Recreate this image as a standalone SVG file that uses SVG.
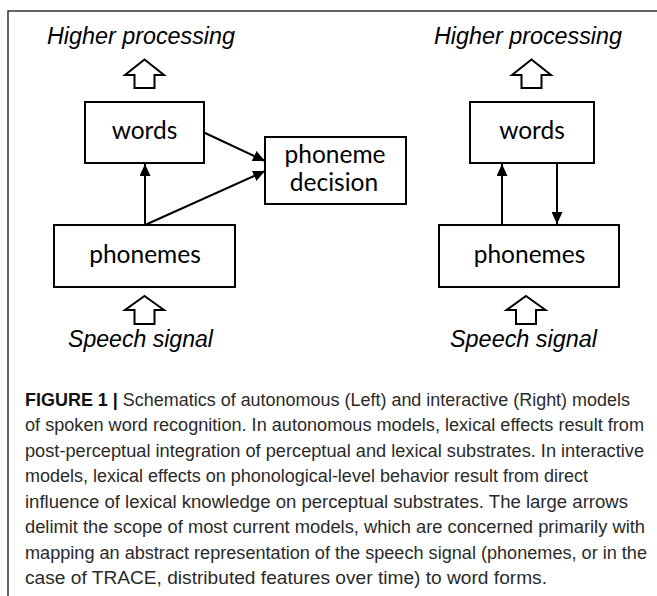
<svg xmlns="http://www.w3.org/2000/svg" width="657" height="596" viewBox="0 0 657 596">
  <defs>
    <marker id="tri" markerUnits="userSpaceOnUse" markerWidth="12" markerHeight="11" refX="12" refY="5.5" orient="auto">
      <path d="M0,0 L12,5.5 L0,11 Z" fill="#000"/>
    </marker>
    <style>
      .frame { fill: none; stroke: #333; stroke-width: 1.5; }
      .box { fill: #fff; stroke: #000; stroke-width: 2; }
      .big { fill: #fff; stroke: #000; stroke-width: 2; stroke-linejoin: miter; }
      .edge { fill: none; stroke: #000; stroke-width: 2; marker-end: url(#tri); }
      .lbl { font-family: "Lato", "Open Sans", sans-serif; font-size: 24.5px; fill: #000; text-anchor: middle; }
      .ital { font-family: "Liberation Sans", Arial, sans-serif; font-style: italic; font-size: 23px; fill: #000; }
      .cap { font-family: "Liberation Sans", Arial, sans-serif; font-size: 17.5px; fill: #2a2a2a; }
      .capb { font-weight: bold; fill: #111; }
    </style>
  </defs>

  <rect width="657" height="596" fill="#fff"/>

  <!-- panel frame (top and left rules) -->
  <path class="frame" d="M8,596 V11 H657"/>

  <!-- left: autonomous model -->
  <g id="left-higher">
    <text class="ital" x="47" y="43.5" textLength="188" lengthAdjust="spacingAndGlyphs">Higher processing</text>
    <path class="big" d="M144.5,59.5 L164,75 H154.5 V88 H134.5 V75 H125 Z"/>
  </g>
  <g id="left-words">
    <rect class="box" x="85" y="102" width="119" height="61"/>
    <text class="lbl" x="144.5" y="139">words</text>
  </g>
  <g id="left-decision">
    <rect class="box" x="265" y="137" width="141" height="67"/>
    <text class="lbl" x="335" y="163">phoneme</text>
    <text class="lbl" x="334" y="191">decision</text>
  </g>
  <g id="left-phonemes">
    <rect class="box" x="54" y="225" width="181" height="62"/>
    <text class="lbl" x="145" y="263">phonemes</text>
  </g>
  <g id="left-speech">
    <path class="big" d="M144.5,296 L164,310 H154.5 V324 H134.5 V310 H125 Z"/>
    <text class="ital" x="68" y="346.5" textLength="145" lengthAdjust="spacingAndGlyphs">Speech signal</text>
  </g>

  <!-- right: interactive model -->
  <g id="right-higher">
    <text class="ital" x="434" y="43.5" textLength="188" lengthAdjust="spacingAndGlyphs">Higher processing</text>
    <path class="big" d="M531.5,59.5 L551,75 H541.5 V88 H521.5 V75 H512 Z"/>
  </g>
  <g id="right-words">
    <rect class="box" x="470" y="102" width="124" height="61"/>
    <text class="lbl" x="532" y="139">words</text>
  </g>
  <g id="right-phonemes">
    <rect class="box" x="439" y="225" width="180" height="62"/>
    <text class="lbl" x="529.5" y="263">phonemes</text>
  </g>
  <g id="right-speech">
    <path class="big" d="M526,296 L545.5,310 H536 V324 H516 V310 H506.5 Z"/>
    <text class="ital" x="450" y="346.5" textLength="147" lengthAdjust="spacingAndGlyphs">Speech signal</text>
  </g>

  <!-- connectors -->
  <g id="connectors">
    <path class="edge" d="M145,225 V164"/>
    <path class="edge" d="M204,132.5 L265,161"/>
    <path class="edge" d="M145,225 L265,171"/>
    <path class="edge" d="M502,225 V164"/>
    <path class="edge" d="M557,163 V224"/>
  </g>

  <!-- caption -->
  <g id="caption" class="cap">
    <text x="25" y="405.5" textLength="605" lengthAdjust="spacingAndGlyphs"><tspan class="capb">FIGURE 1 |</tspan> Schematics of autonomous (Left) and interactive (Right) models</text>
    <text x="25" y="431" textLength="619" lengthAdjust="spacingAndGlyphs">of spoken word recognition. In autonomous models, lexical effects result from</text>
    <text x="25" y="456.5" textLength="619" lengthAdjust="spacingAndGlyphs">post-perceptual integration of perceptual and lexical substrates. In interactive</text>
    <text x="25" y="482" textLength="563" lengthAdjust="spacingAndGlyphs">models, lexical effects on phonological-level behavior result from direct</text>
    <text x="25" y="507.5" textLength="603" lengthAdjust="spacingAndGlyphs">influence of lexical knowledge on perceptual substrates. The large arrows</text>
    <text x="25" y="533" textLength="620" lengthAdjust="spacingAndGlyphs">delimit the scope of most current models, which are concerned primarily with</text>
    <text x="25" y="558.5" textLength="622" lengthAdjust="spacingAndGlyphs">mapping an abstract representation of the speech signal (phonemes, or in the</text>
    <text x="25" y="584" textLength="522" lengthAdjust="spacingAndGlyphs">case of TRACE, distributed features over time) to word forms.</text>
  </g>
</svg>
